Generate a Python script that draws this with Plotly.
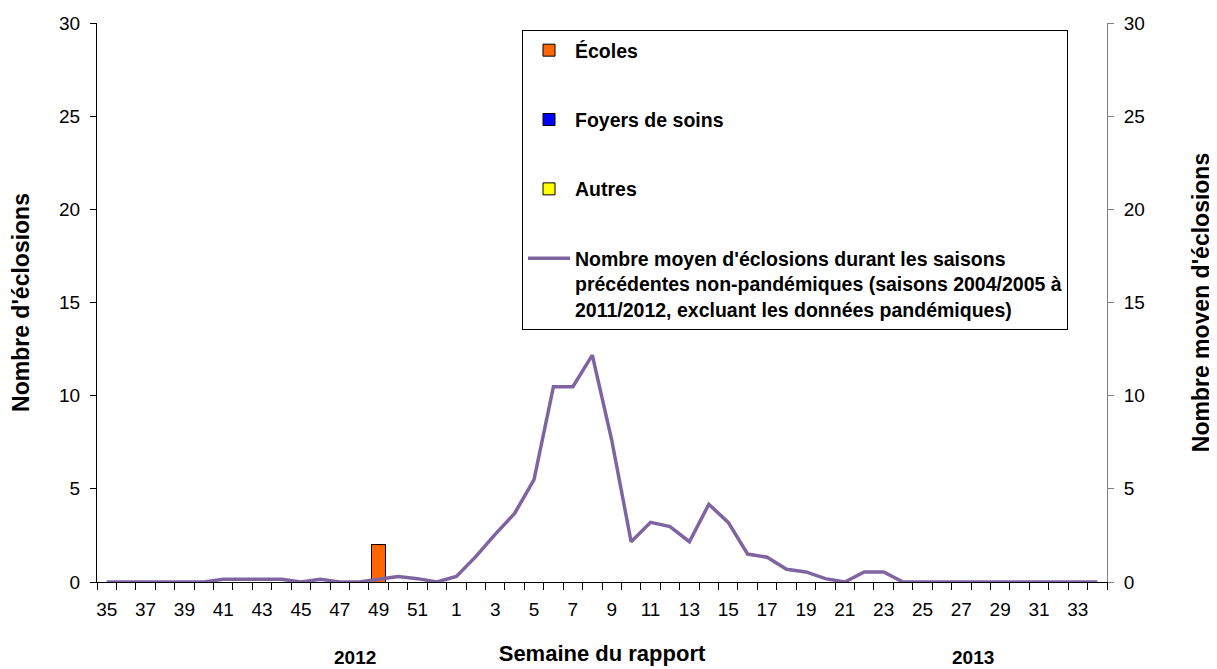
import plotly.graph_objects as go

weeks = [str(w) for w in list(range(35, 53)) + list(range(1, 35))]
ecoles = [0]*14 + [2] + [0]*37
foyers = [0]*52
autres = [0]*52
moyenne = [0, 0, 0, 0, 0, 0, 0.15, 0.15, 0.15, 0.15, 0, 0.15, 0, 0, 0.15, 0.3, 0.18, 0,
           0.3, 1.36, 2.56, 3.68, 5.5, 10.48, 10.48, 12.18, 7.62, 2.16, 3.2, 2.97, 2.16, 4.17,
           3.2, 1.5, 1.33, 0.68, 0.54, 0.18, 0, 0.54, 0.54, 0, 0, 0, 0, 0, 0, 0, 0, 0, 0, 0]
year_labels = ["2012", "2013"]

x = list(range(len(weeks)))
tickvals = x[::2]
ticktext = weeks[::2]

F = "Liberation Sans, Arial, sans-serif"
OFF = 8  # default page body margin

fig = go.Figure()
fig.add_trace(go.Bar(x=x, y=ecoles, name="<b>Écoles</b>", marker=dict(color="#FF6600", line=dict(color="black", width=1)),
                     legendgroup="a"))
fig.add_trace(go.Bar(x=x, y=foyers, name="<b>Foyers de soins</b>", marker=dict(color="#0000FF", line=dict(color="black", width=1)),
                     legendgroup="b"))
fig.add_trace(go.Bar(x=x, y=autres, name="<b>Autres</b>", marker=dict(color="#FFFF00", line=dict(color="black", width=1)),
                     legendgroup="c"))
fig.add_trace(go.Scatter(x=x, y=moyenne, mode="lines", yaxis="y2", line=dict(color="#8064A2", width=3.5),
                         name="<b>Nombre moyen d'éclosions durant les saisons<br>précédentes non-pandémiques (saisons 2004/2005 à<br>2011/2012, excluant les données pandémiques)</b>",
                         legendgroup="d"))

fig.update_layout(
    width=1217, height=669,
    margin=dict(l=97 - OFF, r=110 + OFF, t=23 - OFF, b=87 + OFF, autoexpand=False),
    paper_bgcolor="white", plot_bgcolor="white",
    barmode="stack", bargap=0.28,
    font=dict(family=F, size=19, color="black"),
    showlegend=True,
    legend=dict(x=0.4208, y=0.9875, xanchor="left", yanchor="top", bgcolor="white",
                bordercolor="black", borderwidth=1, traceorder="grouped", tracegroupgap=41,
                valign="top", itemwidth=42, font=dict(family=F, size=19.5, color="black")),
    xaxis=dict(range=[-0.5, len(weeks) - 0.5], tickmode="array", tickvals=tickvals, ticktext=ticktext,
               ticks="", showgrid=False, zeroline=False, showline=True, linecolor="black", linewidth=1,
               tickfont=dict(size=19), ticklabelstandoff=10, automargin=False,
               minor=dict(tick0=-0.5, dtick=1, ticks="outside", ticklen=7, tickcolor="black", showgrid=False),
               title=dict(text="<b>Semaine du rapport</b>", font=dict(size=22), standoff=26)),
    yaxis=dict(range=[0, 30], dtick=5, ticks="outside", ticklen=6, tickcolor="black", showgrid=False,
               zeroline=False, showline=True, linecolor="black", linewidth=1, tickfont=dict(size=19),
               ticklabelstandoff=6, automargin=False,
               title=dict(text="<b>Nombre d'éclosions</b>", font=dict(size=23), standoff=30)),
    yaxis2=dict(range=[0, 30], dtick=5, overlaying="y", side="right", ticks="outside", ticklen=6,
                tickcolor="#808080", showgrid=False, zeroline=False, showline=True, linecolor="#808080",
                linewidth=1, tickfont=dict(size=19), ticklabelstandoff=6, automargin=False,
                title=dict(text="<b>Nombre moyen d'éclosions</b>", font=dict(size=23), standoff=48)),
)

for lab, xpos in zip(year_labels, [12.8, 44.6]):
    fig.add_annotation(x=xpos, y=0, xref="x", yref="paper", yanchor="middle",
                       yshift=-75, text="<b>" + lab + "</b>", showarrow=False,
                       font=dict(family=F, size=19, color="black"))

fig.write_html("out.html")
